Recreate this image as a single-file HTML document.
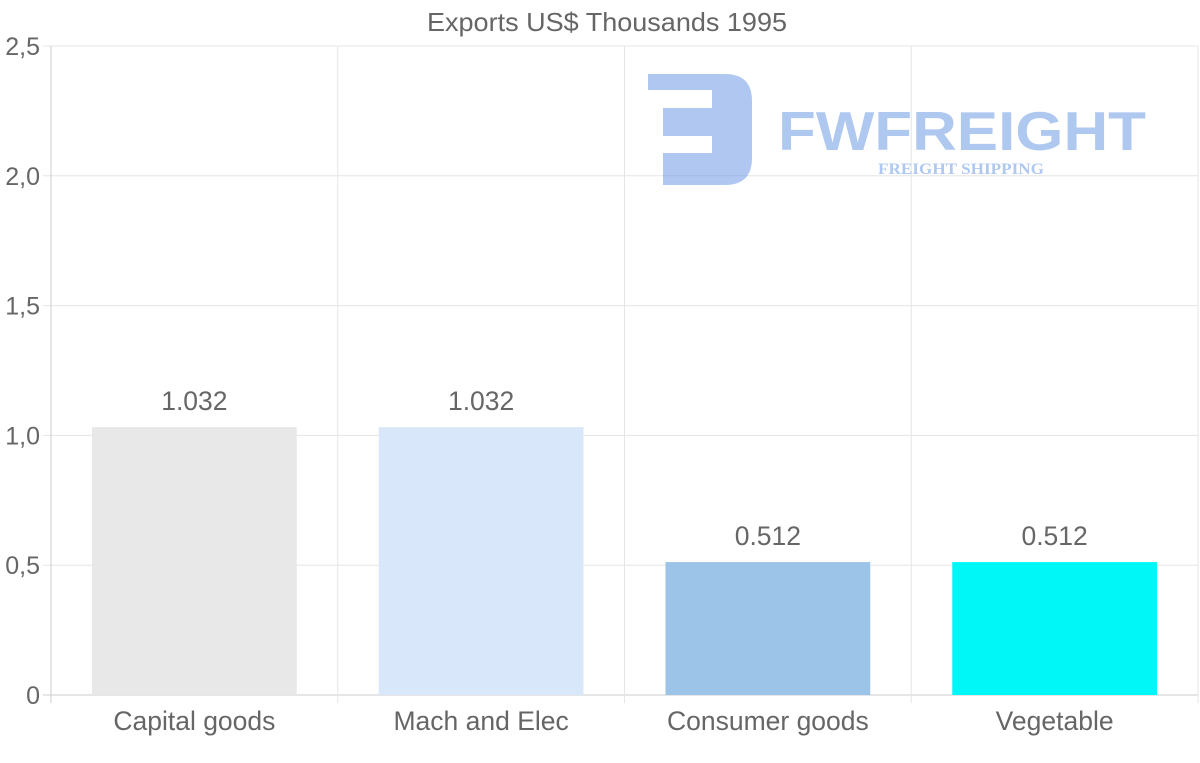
<!DOCTYPE html>
<html><head><meta charset="utf-8"><style>
body{margin:0;background:#fff;}
svg{display:block;font-family:"Liberation Sans",Arial,sans-serif;}
</style></head><body>
<svg id="chart" width="1200" height="763" viewBox="0 0 1200 763">
<text x="607" y="31" text-anchor="middle" font-size="26" fill="#666" textLength="360" lengthAdjust="spacingAndGlyphs">Exports US$ Thousands 1995</text>
<g id="grid"></g>
<g opacity="0.45">
<path d="M648 74 H725 Q752 74 752 101 V158 Q752 185 725 185 H663 V153 H712 V136 H663 V108 H712 V90 H648 Z" fill="#4f86e0"/>
<text x="778" y="150" font-size="55" font-weight="bold" fill="#4f86e0" textLength="368" lengthAdjust="spacingAndGlyphs">FWFREIGHT</text>
<text x="961" y="174" text-anchor="middle" font-size="16" font-weight="bold" font-family="Liberation Serif,serif" fill="#4f86e0" textLength="166" lengthAdjust="spacingAndGlyphs">FREIGHT SHIPPING</text>
</g>
<g id="bars"></g>
</svg>
<script>
const categories=["Capital goods","Mach and Elec","Consumer goods","Vegetable"];
const values=[1.032,1.032,0.512,0.512];
const valueLabels=["1.032","1.032","0.512","0.512"];
const yTicks=[0,0.5,1,1.5,2,2.5];
const yTickLabels=["0","0,5","1,0","1,5","2,0","2,5"];
const colors=["#e8e8e8","#d8e8fa","#9cc3e8","#00f7f8"];
const NS="http://www.w3.org/2000/svg";
const L=51,R=1198,T=46,B=695,yMax=2.5;
const y=v=>B-(v/yMax)*(B-T);
const bw=(R-L)/categories.length;
const x=i=>L+i*bw;
function mk(tag,a,p){const e=document.createElementNS(NS,tag);for(const k in a)e.setAttribute(k,a[k]);p.appendChild(e);return e;}
const g=document.getElementById('grid'),bg=document.getElementById('bars');
yTicks.forEach((t,i)=>{
  const l=mk('line',{x1:43,x2:R,y1:y(t),y2:y(t),stroke:i==0?'#ccc':'#e5e5e5','stroke-width':1},g);
  
  
  const tx=mk('text',{x:40,y:y(t)+9,'text-anchor':'end','font-size':25,fill:'#666'},g);
  tx.textContent=yTickLabels[i];
  
  
});
for(let i=0;i<=categories.length;i++){
  const l=mk('line',{x1:x(i),x2:x(i),y1:T,y2:B+8,stroke:i==0?'#ccc':'#e5e5e5','stroke-width':1},g);
  
  
}
categories.forEach((c,i)=>{
  const pad=bw*0.143;
  const r=mk('rect',{x:x(i)+pad,y:y(values[i]),width:bw-2*pad,height:B-y(values[i]),fill:colors[i]},bg);
  
  
  const v=mk('text',{x:x(i)+bw/2,y:y(values[i])-17,'text-anchor':'middle','font-size':26.5,fill:'#666'},bg);
  v.textContent=valueLabels[i];
  
  
  const t=mk('text',{x:x(i)+bw/2,y:730,'text-anchor':'middle','font-size':26.5,fill:'#666'},bg);
  t.textContent=c;
  
  
});
</script>
</body></html>
